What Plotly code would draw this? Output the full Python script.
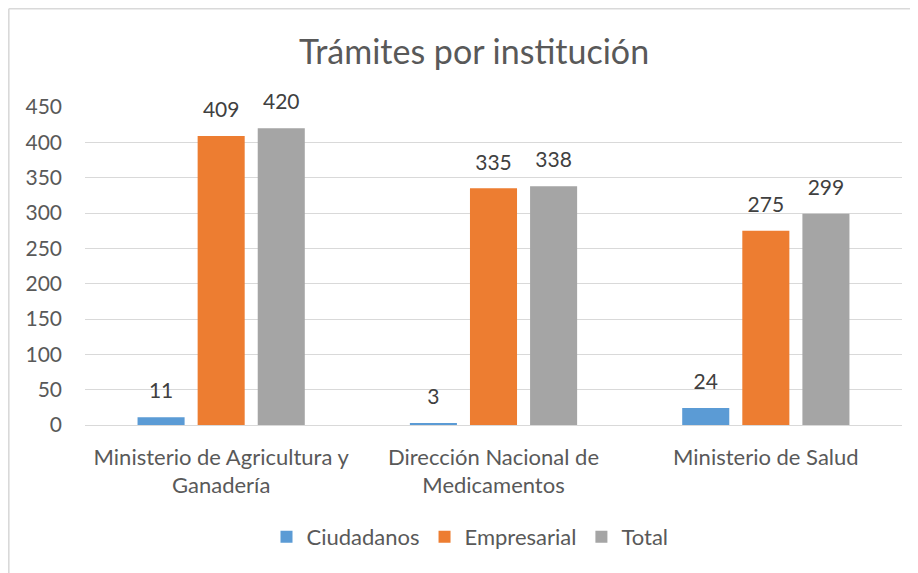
import plotly.graph_objects as go

categories = ["Ministerio de Agricultura y<br>Ganadería", "Dirección Nacional de<br>Medicamentos", "Ministerio de Salud"]
ciudadanos = [11, 3, 24]
empresarial = [409, 335, 275]
total = [420, 338, 299]
y_ticks = [0, 50, 100, 150, 200, 250, 300, 350, 400, 450]

W, H = 918, 573
OFF = 8  # page body margin
L, R, T, B = 85 - OFF, 24, 107 - OFF, 573 - (425 - OFF)
pw, ph = W - L - R, H - T - B

def px_x(p):
    return (p - L) / pw

def px_y(p):
    return (H - B - p) / ph

font = "Lato, Carlito, Calibri, sans-serif"
txt = "#595959"
BARGAP = 0.338

series = [("Ciudadanos", ciudadanos, "#5B9BD5"),
          ("Empresarial", empresarial, "#ED7D31"),
          ("Total", total, "#A5A5A5")]

fig = go.Figure()
for name, vals, col in series:
    fig.add_trace(go.Bar(
        x=categories, y=vals, name=name, offsetgroup=name,
        marker=dict(color=col, line=dict(width=0)), hoverinfo="skip",
    ))
for name, vals, col in series:
    fig.add_trace(go.Scatter(
        x=categories, y=vals, mode="markers+text", offsetgroup=name,
        text=[str(v) for v in vals], textposition="top center",
        marker=dict(size=20, opacity=0), showlegend=False, hoverinfo="skip",
        cliponaxis=False,
        textfont=dict(family=font, size=21, color="#404040"),
    ))

fig.update_layout(
    width=W, height=H,
    margin=dict(l=L, r=R, t=T, b=B, autoexpand=False),
    paper_bgcolor="white", plot_bgcolor="white",
    barmode="group", bargap=BARGAP, bargroupgap=0.217,
    scattermode="group", scattergap=BARGAP,
    title=dict(text="Trámites por institución", x=(474 - OFF) / W, xref="container",
               xanchor="center",
               y=1 - (52 - OFF) / H, yref="container", yanchor="middle",
               font=dict(family=font, size=34, color=txt)),
    font=dict(family=font, color=txt),
    showlegend=True,
    legend=dict(orientation="h", x=(470 - OFF) / W, xref="container", xanchor="center",
                y=1 - (537 - OFF) / H, yref="container", yanchor="middle",
                font=dict(family=font, size=22, color=txt),
                traceorder="normal"),
    yaxis=dict(range=[0, 450], tickvals=y_ticks, showgrid=True, gridcolor="#D9D9D9",
               gridwidth=1.3, zeroline=False, showline=False, ticks="",
               ticklabelstandoff=22, automargin=False,
               tickfont=dict(family=font, size=21, color=txt)),
    xaxis=dict(showline=True, linecolor="#D9D9D9", linewidth=1.3, ticks="",
               tickangle=0, automargin=False, ticklabelstandoff=12,
               tickfont=dict(family=font, size=22, color=txt)),
    shapes=[
        dict(type="line", xref="paper", yref="paper", x0=px_x(0.8), x1=px_x(W + 5),
             y0=px_y(0.8), y1=px_y(0.8), line=dict(color="#D9D9D9", width=1.6)),
        dict(type="line", xref="paper", yref="paper", x0=px_x(0.8), x1=px_x(0.8),
             y0=px_y(0.8), y1=px_y(H + 5), line=dict(color="#D9D9D9", width=1.6)),
    ],
)

fig.write_html("out.html")
